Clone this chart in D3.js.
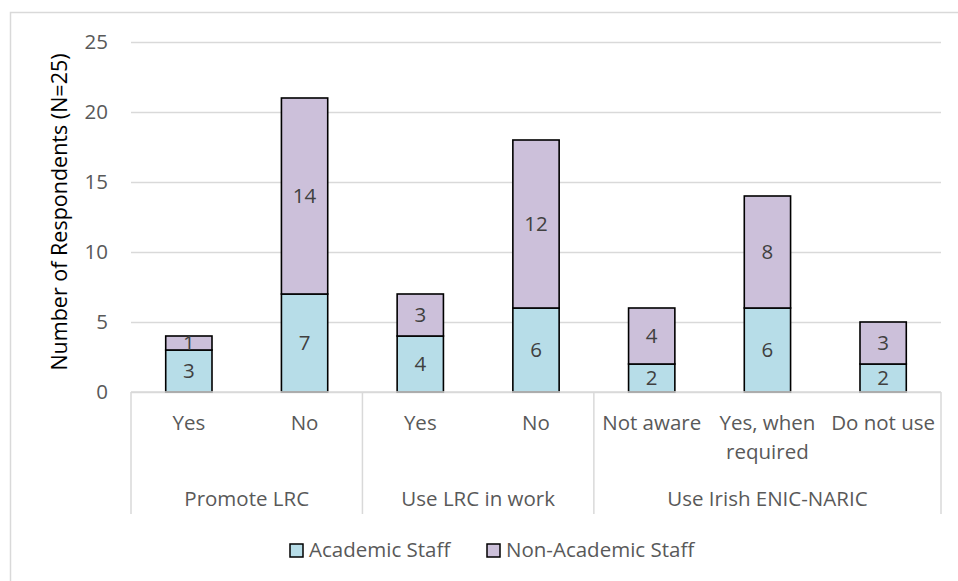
<!DOCTYPE html>
<html>
<head>
<meta charset="utf-8">
<script src="https://cdn.jsdelivr.net/npm/d3@7"></script>
<style>
  html, body { margin: 0; padding: 0; background: #fff; }
  svg { display: block; font-family: "Open Sans", "Noto Sans", sans-serif; }
</style>
</head>
<body>
<svg id="chart" width="958" height="581"></svg>
<script>
// Survey responses by question and staff type
const groups = ["Promote LRC", "Use LRC in work", "Use Irish ENIC-NARIC"];
const groupSizes = [2, 2, 3];
const categories = [["Yes"], ["No"], ["Yes"], ["No"], ["Not aware"], ["Yes, when", "required"], ["Do not use"]];
const academic = [3, 7, 4, 6, 2, 6, 2];
const nonAcademic = [1, 14, 3, 12, 4, 8, 3];
const seriesNames = ["Academic Staff", "Non-Academic Staff"];
const seriesColors = ["#b7dde8", "#ccc0da"];
const yTicks = [0, 5, 10, 15, 20, 25];

const svg = d3.select("#chart");
const fontSize = 20.5;

// Outer chart frame
svg.append("rect")
  .attr("x", 10.5).attr("y", 12.5)
  .attr("width", 960).attr("height", 600)
  .attr("fill", "none").attr("stroke", "#d9d9d9").attr("stroke-width", 1.5);

const plot = { left: 131, right: 941, top: 42, bottom: 392 };

const x = d3.scaleBand()
  .domain(d3.range(categories.length))
  .range([plot.left, plot.right])
  .paddingInner(0.6)
  .paddingOuter(0.3);

const y = d3.scaleLinear().domain([0, 25]).range([plot.bottom, plot.top]);

// Horizontal gridlines via a left axis with full-width ticks
const grid = svg.append("g")
  .attr("transform", `translate(${plot.left},0)`)
  .call(d3.axisLeft(y).tickValues(yTicks).tickSize(-(plot.right - plot.left)).tickFormat(""));
grid.select(".domain").remove();
grid.selectAll("line").attr("stroke", "#d9d9d9").attr("stroke-width", 1.5);

// Y tick labels
const yAxis = svg.append("g")
  .attr("transform", `translate(${plot.left},0)`)
  .call(d3.axisLeft(y).tickValues(yTicks).tickSize(0).tickPadding(23));
yAxis.select(".domain").remove();
yAxis.selectAll("text")
  .attr("font-size", fontSize).attr("fill", "#595959")
  .attr("font-family", "'Open Sans', sans-serif");

// Y axis title
svg.append("text")
  .attr("transform", `translate(67,${(plot.top + plot.bottom) / 2 - 5}) rotate(-90)`)
  .attr("text-anchor", "middle")
  .attr("font-size", 21.5)
  .attr("fill", "#000")
  .text("Number of Respondents (N=25)");

// Stacked data
const rows = categories.map((c, i) => ({ i, academic: academic[i], nonAcademic: nonAcademic[i] }));
const stack = d3.stack().keys(["academic", "nonAcademic"])(rows);

const layers = svg.append("g").selectAll("g")
  .data(stack)
  .join("g")
  .attr("fill", (d, k) => seriesColors[k]);

layers.selectAll("rect")
  .data(d => d)
  .join("rect")
  .attr("x", d => x(d.data.i))
  .attr("y", d => y(d[1]))
  .attr("width", x.bandwidth())
  .attr("height", d => y(d[0]) - y(d[1]))
  .attr("stroke", "#000")
  .attr("stroke-width", 1.6);

// Value labels centred within each segment
layers.selectAll("text")
  .data(d => d.map(s => ({ s, v: s[1] - s[0] })))
  .join("text")
  .attr("x", d => x(d.s.data.i) + x.bandwidth() / 2)
  .attr("y", d => y((d.s[0] + d.s[1]) / 2))
  .attr("dy", "0.36em")
  .attr("text-anchor", "middle")
  .attr("font-size", fontSize)
  .attr("fill", "#404040")
  .text(d => d.v);

// Baseline
svg.append("line")
  .attr("x1", plot.left).attr("x2", plot.right)
  .attr("y1", y(0)).attr("y2", y(0))
  .attr("stroke", "#d9d9d9").attr("stroke-width", 1.5);

// Category labels
const catG = svg.append("g");
categories.forEach((lines, i) => {
  const t = catG.append("text")
    .attr("x", x(i) + x.bandwidth() / 2)
    .attr("y", 430)
    .attr("text-anchor", "middle")
    .attr("font-size", fontSize)
    .attr("fill", "#595959");
  lines.forEach((ln, j) => {
    t.append("tspan").attr("x", x(i) + x.bandwidth() / 2).attr("dy", j === 0 ? 0 : 29).text(ln);
  });
});

// Group separators and group labels
const step = x.step();
const bounds = [0];
groupSizes.forEach(n => bounds.push(bounds[bounds.length - 1] + n));
bounds.forEach(b => {
  const bx = plot.left + b * step;
  svg.append("line")
    .attr("x1", bx).attr("x2", bx)
    .attr("y1", plot.bottom).attr("y2", 514)
    .attr("stroke", "#d9d9d9").attr("stroke-width", 1.5);
});
groups.forEach((g, k) => {
  const cx = plot.left + (bounds[k] + bounds[k + 1]) / 2 * step;
  svg.append("text")
    .attr("x", cx).attr("y", 506)
    .attr("text-anchor", "middle")
    .attr("font-size", fontSize)
    .attr("fill", "#595959")
    .text(g);
});

// Legend
const legendX = [290, 487];
seriesNames.forEach((name, k) => {
  svg.append("rect")
    .attr("x", legendX[k]).attr("y", 544)
    .attr("width", 13).attr("height", 13)
    .attr("fill", seriesColors[k])
    .attr("stroke", "#000").attr("stroke-width", 1.5);
  svg.append("text")
    .attr("x", legendX[k] + 19).attr("y", 557)
    .attr("font-size", fontSize)
    .attr("fill", "#595959")
    .text(name);
});
</script>
</body>
</html>
